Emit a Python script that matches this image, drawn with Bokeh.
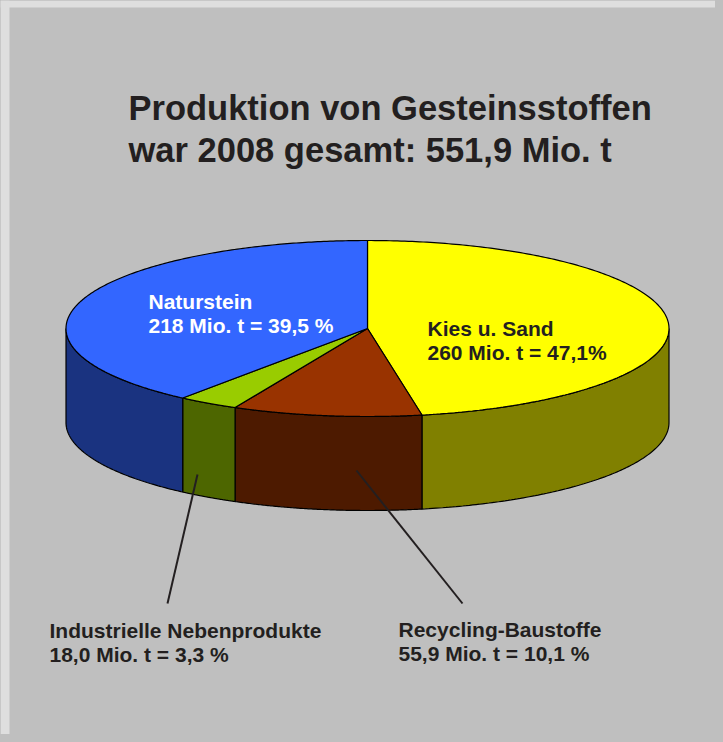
import numpy as np
from bokeh.plotting import figure
from bokeh.models import Range1d
from bokeh.core.properties import value
from bokeh.embed import file_html
from bokeh.resources import INLINE

# ---- data ----
categories = ["Kies u. Sand", "Recycling-Baustoffe", "Industrielle Nebenprodukte", "Naturstein"]
values = [260.0, 55.9, 18.0, 218.0]
label_line1 = ["Kies u. Sand", "Recycling-Baustoffe", "Industrielle Nebenprodukte", "Naturstein"]
label_line2 = ["260 Mio. t = 47,1%", "55,9 Mio. t = 10,1 %", "18,0 Mio. t = 3,3 %", "218 Mio. t = 39,5 %"]
top_colors = ["#FFFF00", "#993300", "#99CC00", "#3366FF"]
side_colors = ["#808000", "#4D1A00", "#4D6600", "#1A3380"]
title_lines = ["Produktion von Gesteinsstoffen", "war 2008 gesamt: 551,9 Mio. t"]

# ---- layout ----
CX, CY, A, B, DEPTH = 367.0, 328.0, 301.5, 88.0, 94.0
FONT = value("Liberation Sans")
TXT = "#231f20"
W, H = 715, 734

p = figure(width=W, height=H, output_backend="svg", toolbar_location=None,
           x_range=Range1d(0, W), y_range=Range1d(H, 0),
           x_axis_type=None, y_axis_type=None, min_border=0,
           background_fill_color="#bfbfbf", border_fill_color="#bfbfbf",
           outline_line_color=None)
p.grid.visible = False

# light outer frame (left and top)
p.quad(left=[0, 0], right=[9, W], bottom=[H, 7], top=[0, 0],
       fill_color="#dedede", line_color=None)

def ex(t):
    return CX + A * np.sin(np.radians(t))

def ey(t):
    return CY - B * np.cos(np.radians(t))

total = sum(values)
starts, ends = [], []
acc = 0.0
for v in values:
    starts.append(acc * 360 / total)
    acc += v
    ends.append(acc * 360 / total)

# side faces
sx, sy, sc = [], [], []
for t0, t1, c in zip(starts, ends, side_colors):
    lo, hi = max(t0, 90.0), min(t1, 270.0)
    if hi <= lo:
        continue
    ts = np.linspace(lo, hi, 120)
    xs = list(ex(ts)) + list(ex(ts[::-1]))
    ys = list(ey(ts)) + list(ey(ts[::-1]) + DEPTH)
    sx.append(xs); sy.append(ys); sc.append(c)
p.patches(sx, sy, fill_color=sc, line_color="black", line_width=1.2)

# top faces
tx, ty = [], []
for t0, t1 in zip(starts, ends):
    ts = np.linspace(t0, t1, 240)
    tx.append([CX] + list(ex(ts)))
    ty.append([CY] + list(ey(ts)))
p.patches(tx, ty, fill_color=top_colors, line_color="black", line_width=1.2)

# leader lines
p.segment(x0=[197, 356], y0=[474, 470], x1=[167, 462], y1=[603, 603],
          line_color=TXT, line_width=2)

# title
p.text(x=[128, 128], y=[107.5, 149.5], text=title_lines, text_font=FONT,
       text_font_style="bold", text_font_size="34.5px", text_color=TXT,
       text_baseline="alphabetic", text_align="left")

# labels: positions for Kies, Recycling, Industrielle, Naturstein
lab_x = [427, 398, 49, 148]
lab_y = [327.5, 628.5, 629.5, 300.5]
lab_col = [TXT, TXT, TXT, "white"]
p.text(x=lab_x, y=lab_y, text=label_line1, text_font=FONT, text_font_style="bold",
       text_font_size="21px", text_color=lab_col, text_baseline="alphabetic")
p.text(x=lab_x, y=[y + 24 for y in lab_y], text=label_line2, text_font=FONT,
       text_font_style="bold", text_font_size="21px", text_color=lab_col,
       text_baseline="alphabetic")

html = file_html(p, INLINE)
html = html.replace("</head>", "<style>html,body{background:#bfbfbf !important;}</style></head>", 1)
open("out.html", "w").write(html)
